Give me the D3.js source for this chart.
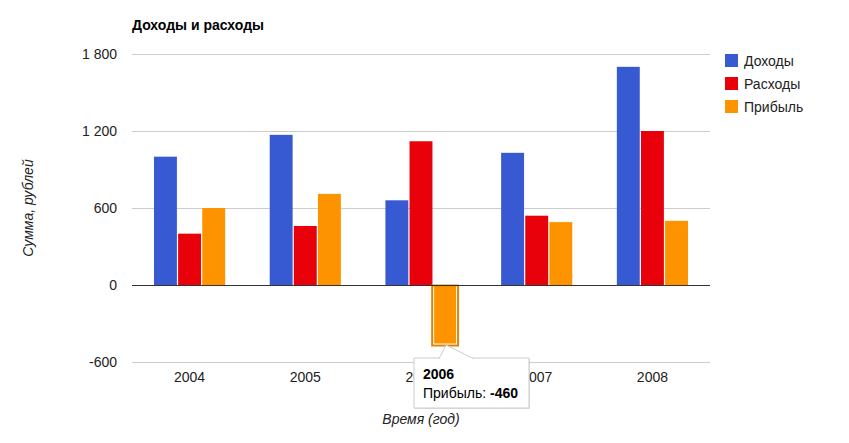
<!DOCTYPE html>
<html>
<head>
<meta charset="utf-8">
<script src="https://cdn.jsdelivr.net/npm/d3@7"></script>
<style>
  body { margin: 0; background: #fff; }
  text { font-family: "Liberation Sans", Arial, sans-serif; }
</style>
</head>
<body>
<script>
// data
var years = ["2004", "2005", "2006", "2007", "2008"];
var seriesNames = ["Доходы", "Расходы", "Прибыль"];
var income = [1000, 1170, 660, 1030, 1700];
var expenses = [400, 460, 1120, 540, 1200];
var profit = [600, 710, -460, 490, 500];
var yTicks = [-600, 0, 600, 1200, 1800];
var colors = ["#3759d1", "#e8000b", "#fe9300"];

// numbers like 1 800 and -600 (plain hyphen)
function fmt(d){
  return d3.format(",")(d).replace(/,/g, " ").replace("\u2212", "-");
}

function drawChart(){
  var W = 849, H = 443;
  var left = 132, right = 710, top = 54, bottom = 362;

  var svg = d3.select("body").append("svg")
      .attr("width", W)
      .attr("height", H);

  var x = d3.scaleBand().domain(years).range([left, right]).paddingInner(0.385).paddingOuter(0.19);
  var x1 = d3.scaleBand().domain(seriesNames).range([0, x.bandwidth()]).paddingInner(0.05);
  var y = d3.scaleLinear().domain([-600, 1800]).range([bottom, top]);

  // gridlines
  svg.append("g").selectAll("line").data(yTicks).enter().append("line")
      .attr("x1", left).attr("x2", right)
      .attr("y1", function(d){ return y(d) + 0.5; })
      .attr("y2", function(d){ return y(d) + 0.5; })
      .attr("stroke", "#cccccc").attr("stroke-width", 1);

  // y axis labels
  var yAxis = d3.axisLeft(y).tickValues(yTicks).tickSize(0).tickPadding(15).tickFormat(fmt);
  var ya = svg.append("g").attr("transform", "translate(" + left + ",0)").call(yAxis);
  ya.select(".domain").remove();
  ya.selectAll("text").attr("font-size", 14).attr("fill", "#222")
      .attr("font-family", "Liberation Sans, Arial, sans-serif");

  // bars
  var rows = years.map(function(yr, i){ return [income[i], expenses[i], profit[i]]; });
  var groups = svg.append("g").selectAll("g").data(rows).enter().append("g")
      .attr("transform", function(d, i){ return "translate(" + x(years[i]) + ",0)"; });
  groups.selectAll("rect").data(function(d, i){
        return d.map(function(v, j){ return {v: v, s: j, yr: i}; });
      }).enter().append("rect")
      .attr("x", function(d){ return x1(seriesNames[d.s]); })
      .attr("width", x1.bandwidth())
      .attr("y", function(d){ return y(Math.max(0, d.v)); })
      .attr("height", function(d){ return Math.abs(y(d.v) - y(0)); })
      .attr("fill", function(d){ return colors[d.s]; })
      .attr("stroke", function(d){ return (d.yr === 2 && d.s === 2) ? "#ffffff" : "none"; })
      .attr("stroke-width", 1);

  // highlight outline for hovered bar
  var hx = x(years[2]) + x1(seriesNames[2]);
  svg.append("rect")
      .attr("x", hx - 1.5).attr("y", y(0) + 0.5)
      .attr("width", x1.bandwidth() + 3).attr("height", y(profit[2]) - y(0) + 1)
      .attr("fill", "none").attr("stroke", "#d9870a").attr("stroke-width", 2);

  // zero baseline
  svg.append("line")
      .attr("x1", left).attr("x2", right)
      .attr("y1", y(0) + 0.5).attr("y2", y(0) + 0.5)
      .attr("stroke", "#333").attr("stroke-width", 1);

  // x axis labels
  var xAxis = d3.axisBottom(x).tickSize(0).tickPadding(10);
  var xa = svg.append("g").attr("transform", "translate(0," + bottom + ")").call(xAxis);
  xa.select(".domain").remove();
  xa.selectAll("text").attr("font-size", 14).attr("fill", "#222")
      .attr("font-family", "Liberation Sans, Arial, sans-serif");

  // title
  svg.append("text").attr("x", 132).attr("y", 30)
      .attr("font-size", 14).attr("font-weight", "bold").attr("fill", "#000")
      .text("Доходы и расходы");

  // axis titles
  svg.append("text")
      .attr("transform", "translate(33," + ((top + bottom) / 2) + ") rotate(-90)")
      .attr("text-anchor", "middle").attr("font-size", 14).attr("font-style", "italic").attr("fill", "#222")
      .text("Сумма, рублей");
  svg.append("text")
      .attr("x", 421).attr("y", 424)
      .attr("text-anchor", "middle").attr("font-size", 14).attr("font-style", "italic").attr("fill", "#222")
      .text("Время (год)");

  // legend
  var lg = svg.append("g").selectAll("g").data(seriesNames).enter().append("g")
      .attr("transform", function(d, i){ return "translate(725," + (54 + i * 23) + ")"; });
  lg.append("rect").attr("width", 13).attr("height", 13)
      .attr("fill", function(d, i){ return colors[i]; });
  lg.append("text").attr("x", 19).attr("y", 12)
      .attr("font-size", 14).attr("fill", "#222")
      .text(function(d){ return d; });

  // tooltip
  var tx = 414, ty = 358, tw = 115, th = 50;
  var bx = hx + x1.bandwidth() / 2;
  var tip = svg.append("g");
  tip.append("rect").attr("x", tx + 1).attr("y", ty + 1).attr("width", tw).attr("height", th)
      .attr("fill", "#000").attr("opacity", 0.12);
  tip.append("path")
      .attr("d", "M" + tx + "," + ty + "h" + tw + "v" + th + "h" + (-tw) + "Z")
      .attr("fill", "#fff").attr("stroke", "#cccccc");
  tip.append("path")
      .attr("d", "M" + (bx - 6) + "," + (ty + 0.5) + "L" + (bx + 1) + "," + (y(profit[2]) + 1)
        + "L" + (bx + 28) + "," + (ty + 0.5))
      .attr("fill", "#fff").attr("stroke", "#cccccc");
  tip.append("line").attr("x1", bx - 5).attr("x2", bx + 27)
      .attr("y1", ty + 1).attr("y2", ty + 1).attr("stroke", "#fff").attr("stroke-width", 2);
  tip.append("text").attr("x", tx + 9).attr("y", ty + 21)
      .attr("font-size", 14).attr("font-weight", "bold").attr("fill", "#000")
      .text(years[2]);
  var t2 = tip.append("text").attr("x", tx + 9).attr("y", ty + 40)
      .attr("font-size", 14).attr("fill", "#000");
  t2.append("tspan").text(seriesNames[2] + ": ");
  t2.append("tspan").attr("font-weight", "bold").text(fmt(profit[2]));
}
drawChart();
</script>
</body>
</html>
